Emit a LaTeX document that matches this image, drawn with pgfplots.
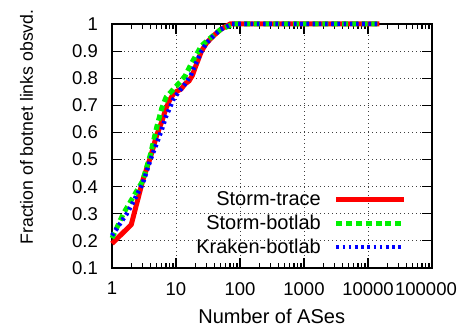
\documentclass[border=0pt]{standalone}
\usepackage{fontspec}
\setmainfont{Liberation Sans}
\usepackage{pgfplots}
\pgfplotsset{compat=1.18}
\pgfplotsset{layers/mylayers/.define layer set={axis background,axis grid,pre main,axis ticks,axis lines,axis tick labels,main,axis descriptions,axis foreground}{}}
\definecolor{gpred}{RGB}{255,0,0}
\definecolor{gpgreen}{RGB}{0,240,0}
\definecolor{gpblue}{RGB}{0,0,255}
\begin{document}
\begin{tikzpicture}[x=1pt,y=1pt]
\begin{axis}[
  set layers=mylayers,
  at={(112pt,60pt)}, anchor=south west,
  scale only axis, width=320pt, height=244pt,
  xmode=log, xmin=1, xmax=100000, ymin=0.1, ymax=1,
  xtick={1,10,100,1000,10000,100000},
  xticklabels={1,10,100,1000,10000,\hspace*{-12pt}100000},
  minor xtick={2,3,4,5,6,7,8,9,20,30,40,50,60,70,80,90,200,300,400,500,600,700,800,900,2000,3000,4000,5000,6000,7000,8000,9000,20000,30000,40000,50000,60000,70000,80000,90000},
  ytick={0.1,0.2,0.3,0.4,0.5,0.6,0.7,0.8,0.9,1},
  yticklabel style={/pgf/number format/assume math mode=true,/pgf/number format/fixed,/pgf/number format/precision=1, xshift=-14pt},
  xticklabel style={yshift=-14pt},
  tick label style={font=\fontsize{18.5}{22}\selectfont, inner sep=0pt},
  major tick length=10pt, minor tick length=5pt,
  every tick/.style={black, line width=1.2pt},
  axis line style={black, line width=1.5pt},
  grid=major,
  major grid style={black!75, line width=0.9pt, dash pattern=on 0.9pt off 3.1pt},
  clip=false,
  xlabel={Number of ASes},
  ylabel={Fraction of botnet links obsvd.},
  xlabel style={at={(axis description cs:0.499,-0.2275)}, anchor=base, font=\fontsize{20}{24}\selectfont, inner sep=0pt},
  ylabel style={at={(axis description cs:-0.2469,0.578)}, anchor=base, font=\fontsize{17.7}{21}\selectfont, inner sep=0pt},
  legend plot pos=right,
  legend cell align=right,
  legend style={at={(rel axis cs:0.9219,0.314)}, anchor=north east, draw=none, fill=none, inner sep=0pt,
    font=\fontsize{20}{24}\selectfont, row sep=8pt, column sep=13pt, nodes={inner sep=0pt}},
  legend image code/.code={\draw[#1] (0pt,0pt) -- (68pt,0pt);},
]
\pgfplotsextra{%
\begin{pgfonlayer}{pre main}
\fill[white] (rel axis cs:0.1719,0) rectangle (rel axis cs:1,0.3238);
\end{pgfonlayer}}
\addplot[gpred, line width=5pt] table {
x y
1 0.19
2 0.26
3 0.42
4 0.51
5 0.59
6 0.64
7 0.69
8 0.72
9 0.74
10 0.75
12 0.76
14 0.78
16 0.79
18 0.81
20 0.84
25 0.90
30 0.93
40 0.96
50 0.98
70 1.0
15000 1.0
};
\addlegendentry{Storm-trace}
\addplot[gpgreen, line width=5pt, dash pattern=on 6pt off 3.8pt] table {
x y
1 0.21
1.5 0.30
2 0.35
3 0.42
4 0.52
5 0.62
6 0.69
7 0.73
8 0.745
10 0.77
12 0.79
14 0.81
17 0.85
20 0.88
25 0.92
35 0.95
50 0.98
80 1.0
15000 1.0
};
\addlegendentry{Storm-botlab}
\addplot[gpblue, line width=4.5pt, dash pattern=on 2.6pt off 3.6pt] table {
x y
1 0.22
1.7 0.30
2 0.33
3 0.41
4 0.50
5 0.56
6 0.61
7 0.66
8 0.69
9 0.72
11 0.75
14 0.78
17 0.81
20 0.85
25 0.90
30 0.93
40 0.96
50 0.98
75 1.0
15000 1.0
};
\addlegendentry{Kraken-botlab}
\end{axis}
\pgfresetboundingbox
\path[use as bounding box] (0,0) rectangle (464,328);
\end{tikzpicture}
\end{document}
